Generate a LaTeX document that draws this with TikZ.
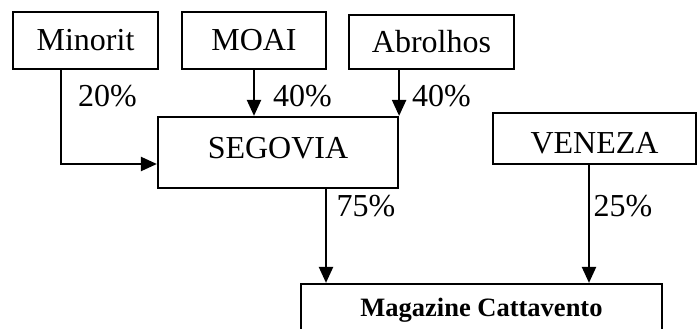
\documentclass[tikz,border=0pt]{standalone}
\usepackage{fontspec}
\setmainfont{Liberation Serif}
\usetikzlibrary{arrows.meta}
\begin{document}
\begin{tikzpicture}[x=1pt,y=-1pt,line width=2.2pt,>={Triangle[length=16pt,width=14pt]},
  firm/.style={draw,inner sep=0pt,font=\fontsize{32}{36}\selectfont},
  pct/.style={inner sep=0pt,anchor=west,font=\fontsize{32}{36}\selectfont}]
\useasboundingbox (0,0) rectangle (697,329);
\node[firm,minimum width=145pt,minimum height=57pt] (minorit) at (85.5,40.5) {Minorit};
\node[firm,minimum width=144pt,minimum height=57pt] (moai) at (254,40.5) {MOAI};
\node[firm,minimum width=165pt,minimum height=54pt] (abrolhos) at (431.5,42) {Abrolhos};
\node[firm,minimum width=240pt,minimum height=71pt,text depth=10pt] (segovia) at (278,152.5) {SEGOVIA};
\node[firm,minimum width=203pt,minimum height=51pt,text height=30pt] (veneza) at (594.5,138.5) {VENEZA};
\node[firm,minimum width=361pt,minimum height=52pt,font=\fontsize{26.5}{30}\selectfont\bfseries] (magazine) at (481.5,310) {Magazine Cattavento};
\node[pct] (p1) at (77,96.5) {20\%};
\node[pct] (p2) at (272,96.5) {40\%};
\node[pct] (p3) at (411,96.5) {40\%};
\node[pct] (p4) at (335.5,206.5) {75\%};
\node[pct] (p5) at (592.5,206.5) {25\%};
\draw[->] ([xshift=-24.5pt]minorit.south) |- ([yshift=-11.5pt]segovia.west);
\draw[->] (moai.south) -- (moai.south |- segovia.north);
\draw[->] (abrolhos.south -| segovia.north east) -- (segovia.north east);
\draw[->] ([xshift=48pt]segovia.south) -- ([xshift=48pt]segovia.south |- magazine.north);
\draw[->] ([xshift=-5.5pt]veneza.south) -- ([xshift=-5.5pt]veneza.south |- magazine.north);
\end{tikzpicture}
\end{document}
